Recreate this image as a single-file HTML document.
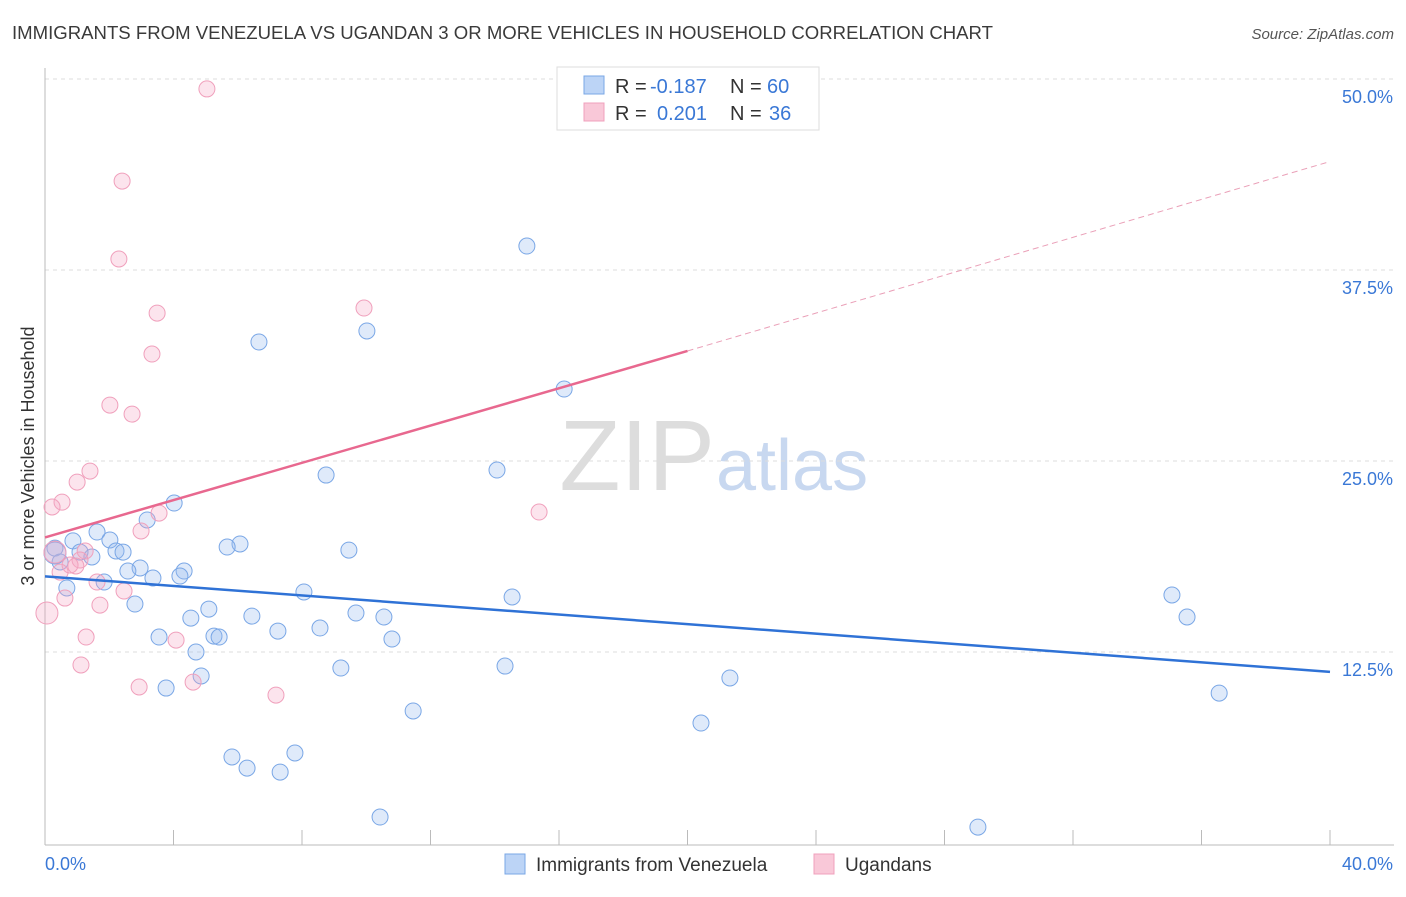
<!DOCTYPE html>
<html><head><meta charset="utf-8"><style>
body{margin:0;background:#fff;font-family:"Liberation Sans",sans-serif;}
svg text{font-family:"Liberation Sans",sans-serif;}
</style></head><body>
<svg id="chart" width="1406" height="892" xmlns="http://www.w3.org/2000/svg">
<text x="12" y="39" font-size="18" fill="#3a3a3a" textLength="981" lengthAdjust="spacingAndGlyphs">IMMIGRANTS FROM VENEZUELA VS UGANDAN 3 OR MORE VEHICLES IN HOUSEHOLD CORRELATION CHART</text>
<text x="1394" y="39" font-size="15" fill="#555" text-anchor="end" font-style="italic">Source: ZipAtlas.com</text>
<text x="715" y="490" font-size="100" fill="#ddd" text-anchor="end" font-family="Liberation Serif">ZIP</text>
<text x="716" y="490" font-size="72" fill="#c8d8f0">atlas</text>
<g id="grid"></g>
<g id="axes"></g>
<g id="marks"></g>
<text transform="translate(34,456) rotate(-90)" font-size="18" fill="#333" text-anchor="middle">3 or more Vehicles in Household</text>
<g>
<rect x="557" y="67" width="262" height="63" fill="#fff" stroke="#ddd"/>
<rect x="584" y="76" width="20" height="18" fill="#bcd4f6" stroke="#7aa7e6"/>
<rect x="584" y="103" width="20" height="18" fill="#f9c8d8" stroke="#f0a0bc"/>
<text x="615" y="93" font-size="20" fill="#333">R =</text>
<text x="650" y="93" font-size="20" fill="#3a78d6">-0.187</text>
<text x="730" y="93" font-size="20" fill="#333">N =</text>
<text x="767" y="93" font-size="20" fill="#3a78d6">60</text>
<text x="615" y="120" font-size="20" fill="#333">R =</text>
<text x="657" y="120" font-size="20" fill="#3a78d6">0.201</text>
<text x="730" y="120" font-size="20" fill="#333">N =</text>
<text x="769" y="120" font-size="20" fill="#3a78d6">36</text>
</g>
<g>
<rect x="505" y="854" width="20" height="20" fill="#bcd4f6" stroke="#7aa7e6"/>
<text x="536" y="871" font-size="19" fill="#333">Immigrants from Venezuela</text>
<rect x="814" y="854" width="20" height="20" fill="#f9c8d8" stroke="#f0a0bc"/>
<text x="845" y="871" font-size="19" fill="#333">Ugandans</text>
</g>
</svg>
<script>
const yTicks=[12.5,25,37.5,50];
const yTickLabels=["12.5%","25.0%","37.5%","50.0%"];
const xTickLabels=["0.0%","40.0%"];
const blueX=[15.0,10.02,6.66,16.16,8.75,14.07,4.02,3.18,1.62,2.02,0.87,6.07,5.67,9.46,0.31,1.09,2.21,2.43,1.46,0.47,2.96,2.58,4.33,3.36,4.20,1.84,0.68,8.06,14.54,2.80,5.10,4.54,6.44,9.68,10.55,7.25,8.56,3.55,5.26,5.42,10.80,4.70,9.21,14.32,4.86,3.77,21.32,11.46,20.42,7.78,5.82,6.29,7.32,10.43,29.04,35.08,35.55,36.55,0.31];
const blueY=[39.07,33.51,32.79,29.71,24.08,24.41,22.25,21.14,20.35,19.83,19.77,19.57,19.37,19.17,19.30,19.04,19.11,19.04,18.72,18.39,18.0,17.8,17.8,17.34,17.47,17.08,16.69,16.43,16.10,15.64,15.31,14.72,14.85,15.05,14.79,13.87,14.07,13.48,13.54,13.48,13.35,12.50,11.45,11.58,10.93,10.14,10.80,8.64,7.85,5.89,5.63,4.90,4.64,1.70,1.04,16.23,14.79,9.81,18.98];
const pinkX=[5.04,2.40,2.30,3.49,9.93,3.33,2.02,2.71,1.40,1.0,0.53,0.22,15.38,3.55,2.99,0.31,1.25,1.09,0.78,0.47,1.62,2.46,0.62,1.71,0.06,1.28,4.08,1.12,2.93,4.61,7.19,0.96];
const pinkY=[49.35,43.32,38.22,34.68,35.01,32.0,28.66,28.07,24.34,23.62,22.31,21.99,21.66,21.59,20.42,19.04,19.11,18.52,18.19,17.73,17.08,16.49,16.03,15.57,15.05,13.48,13.28,11.65,10.21,10.53,9.68,18.13];
const blueTrend=[17.45,11.2];
const pinkTrend=[20.0,32.2,44.6];
const NS="http://www.w3.org/2000/svg";
const sx=v=>45+v/40*1285;
const sy=v=>843-v*15.28;
function mk(tag,attrs,parent){const e=document.createElementNS(NS,tag);for(const k in attrs)e.setAttribute(k,attrs[k]);document.getElementById(parent).appendChild(e);return e;}
yTicks.forEach((t,i)=>{
 const g=mk('line',{x1:45,x2:1394,y1:sy(t),y2:sy(t),stroke:'#ddd','stroke-dasharray':'4,4'},'grid');
 
 
 const l=mk('text',{x:1393,y:sy(t)+24,'font-size':18,fill:'#3a78d6','text-anchor':'end'},'axes');
 l.textContent=yTickLabels[i];
 
 
});
const ax=mk('line',{x1:45,x2:45,y1:68,y2:845,stroke:'#bbb'},'axes');


const bx=mk('line',{x1:45,x2:1394,y1:845,y2:845,stroke:'#bbb'},'axes');


for(let i=1;i<=10;i++){const t=mk('line',{x1:sx(i*4),x2:sx(i*4),y1:830,y2:845,stroke:'#bbb'},'axes');
 
 }
const xl0=mk('text',{x:45,y:870,'font-size':18,fill:'#3a78d6'},'axes');xl0.textContent=xTickLabels[0];


const xl1=mk('text',{x:1393,y:870,'font-size':18,fill:'#3a78d6','text-anchor':'end'},'axes');xl1.textContent=xTickLabels[1];


blueX.forEach((x,i)=>{const big=(i===58);const c=mk('circle',{cx:sx(x),cy:sy(blueY[i]),r:big?11:8,fill:'rgba(150,185,240,0.3)',stroke:'#7aa7e6','stroke-width':1},'marks');
 
 });
pinkX.forEach((x,i)=>{const big=(i===15||i===24);const c=mk('circle',{cx:sx(x),cy:sy(pinkY[i]),r:big?11:8,fill:'rgba(245,165,195,0.3)',stroke:'#f0a0bc','stroke-width':1},'marks');
 
 });
const bl=mk('line',{x1:sx(0),y1:sy(blueTrend[0]),x2:sx(40),y2:sy(blueTrend[1]),stroke:'#2f72d6','stroke-width':2.5},'marks');


const pl=mk('line',{x1:sx(0),y1:sy(pinkTrend[0]),x2:sx(20),y2:sy(pinkTrend[1]),stroke:'#e8688f','stroke-width':2.5},'marks');


const pd=mk('line',{x1:sx(20),y1:sy(pinkTrend[1]),x2:sx(40),y2:sy(pinkTrend[2]),stroke:'#eaa0b8','stroke-width':1,'stroke-dasharray':'6,4'},'marks');


</script>
</body></html>
